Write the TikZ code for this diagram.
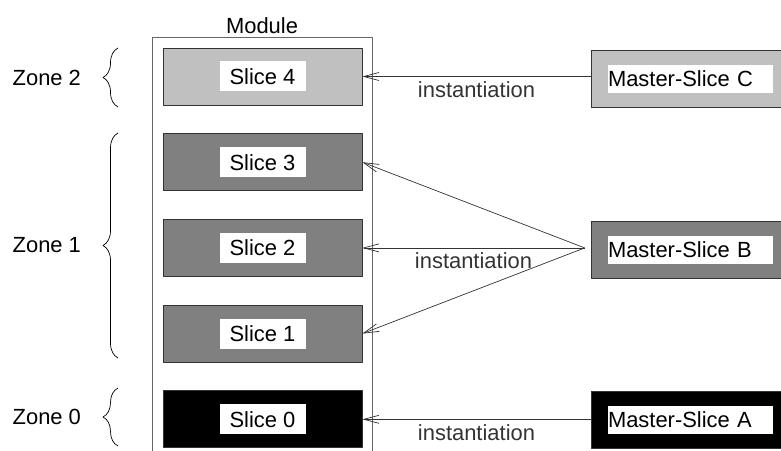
\documentclass[tikz,border=0pt]{standalone}
\usepackage{fontspec}
\setmainfont{Liberation Sans}
\usetikzlibrary{positioning,arrows.meta,decorations.pathreplacing}
\definecolor{zlight}{HTML}{C0C0C0}
\definecolor{zmid}{HTML}{808080}
\tikzset{
  slice/.style={draw=black!80, line width=0.5pt, minimum width=4.975cm, minimum height=1.425cm, inner sep=0pt},
  slicelbl/.style={fill=white, minimum width=2.15cm, minimum height=0.75cm, inner sep=0pt},
  masterlbl/.style={fill=white, text width=4.125cm, align=left, minimum height=0.7cm, inner sep=0pt},
  inst/.style={-{Straight Barb[length=0.38cm,width=0.2cm]}, black!80, line width=0.5pt},
  zonebrace/.style={decorate, decoration={brace, amplitude=0.375cm}, line width=0.5pt},
}
\begin{document}
\begin{tikzpicture}[font=\fontsize{15.6}{18}\selectfont, line join=round]
        \useasboundingbox (0,0) rectangle (19.525,11.25);
        \clip (0,0) rectangle (19.525,11.25);
        % module
        \draw[black!60, line width=0.6pt] (3.8,-0.5) rectangle (9.3,10.325);
        \node[above=-0.05cm] (mod) at (6.55,10.325) {Module};
        % slices
        \node[slice, fill=zlight] (s4) at (6.5625,9.3375) {};
        \node[slice, fill=zmid, below=0.7cm of s4] (s3) {};
        \node[slice, fill=zmid, below=0.7cm of s3] (s2) {};
        \node[slice, fill=zmid, below=0.7cm of s2] (s1) {};
        \node[slice, fill=black, below=0.7cm of s1] (s0) {};
        \node[slicelbl] (t4) at (s4) {Slice 4};
        \node[slicelbl] (t3) at (s3) {Slice 3};
        \node[slicelbl] (t2) at (s2) {Slice 2};
        \node[slicelbl] (t1) at (s1) {Slice 1};
        \node[slicelbl] (t0) at (s0) {Slice 0};
        % master slices
        \node[slice, fill=zlight] (mC) at (17.2625,9.275) {};
        \node[slice, fill=zmid] (mB) at (17.2625,5.0125) {};
        \node[slice, fill=black] (mA) at (17.2625,0.7625) {};
        \node[masterlbl] (tC) at (mC) {Master-Slice C};
        \node[masterlbl] (tB) at (mB) {Master-Slice B};
        \node[masterlbl] (tA) at (mA) {Master-Slice A};
        % instantiation
        \draw[inst] (mC.west |- s4.east) -- (s4.east) node[midway,below] (iC) {instantiation};
        \coordinate (fork) at ([xshift=-0.15cm]mB.west |- s2.east);
        \draw[inst] (fork) -- (s3.east);
        \draw[inst] (fork) -- (s2.east) node[midway,below] (iB) {instantiation};
        \draw[inst] (fork) -- (s1.east);
        \draw[inst] (mA.west |- s0.east) -- (s0.east) node[midway,below] (iA) {instantiation};
        % zones
        \draw[zonebrace] (2.95,8.575) -- (2.95,10.05) node[midway,left=0.8cm] (z2) {Zone 2};
        \draw[zonebrace] (2.95,2.3) -- (2.95,7.925) node[midway,left=0.8cm] (z1) {Zone 1};
        \draw[zonebrace] (2.95,0.1) -- (2.95,1.55) node[midway,left=0.8cm] (z0) {Zone 0};
\end{tikzpicture}
\end{document}
